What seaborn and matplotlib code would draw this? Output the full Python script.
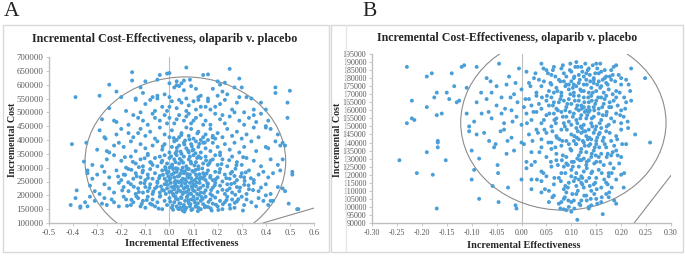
import matplotlib
matplotlib.use("Agg")
import matplotlib.pyplot as plt
import numpy as np
import pandas as pd
import seaborn as sns
from matplotlib.patches import Ellipse, Rectangle
from matplotlib.transforms import Bbox, TransformedBbox

# simulated ICER points, panel A  (effectiveness, cost in $1000)
a_points = [
    # 600k+
    (-0.155,645),(-0.155,615),(-0.25,600),(-0.1,612),(-0.04,635),(-0.01,640),(0.0,642),(0.07,662),
    (0.14,635),(0.16,637),(0.25,657),(0.29,622),(0.03,612),(0.05,605),(0.06,615),(0.085,618),
    (0.2,612),(-0.05,618),(0.0,605),(0.03,598),(0.21,600),(0.23,607),
    # 550-600k
    (-0.39,555),(-0.29,560),(-0.22,575),(-0.2,555),(-0.12,590),(-0.11,570),(-0.07,555),(-0.05,560),
    (-0.02,565),(0.02,590),(0.04,595),(0.06,580),(0.09,595),(0.11,585),(0.13,560),(0.18,585),
    (0.22,575),(0.24,565),(0.27,590),(0.3,590),(0.32,555),(0.44,590),(0.44,570),(0.5,578),
    (0.12,555),(-0.14,550),(0.0,555),(0.07,550),(0.16,550),(0.2,560),(0.34,550),(0.29,555),
    # 500-550k
    (-0.25,515),(-0.14,545),(-0.1,530),(-0.08,545),(-0.05,550),(-0.03,520),(-0.01,505),(0.01,540),
    (0.03,515),(0.05,535),(0.08,525),(0.1,540),(0.12,545),(0.13,520),(0.15,520),(0.17,510),
    (0.19,520),(0.21,530),(0.23,545),(0.26,510),(0.28,535),(0.31,500),(0.35,510),(0.38,535),
    (0.4,510),(0.49,535),(0.11,510),(0.0,520),(-0.06,505),(-0.18,505),(0.07,505),(0.16,540),
    (-0.12,500),(0.04,545),
    # 450-500k
    (-0.28,475),(-0.23,470),(-0.22,465),(-0.15,490),(-0.13,480),(-0.11,470),(-0.09,455),(-0.07,495),
    (-0.06,480),(-0.04,470),(-0.02,490),(0.0,480),(0.02,460),(0.04,490),(0.06,470),(0.08,495),
    (0.09,460),(0.11,480),(0.13,490),(0.15,470),(0.17,455),(0.19,495),(0.21,475),(0.23,460),
    (0.25,485),(0.27,500),(0.29,470),(0.31,455),(0.33,480),(0.36,465),(0.38,495),(0.4,450),
    (0.41,470),(0.49,480),(-0.17,455),(0.14,455),(0.03,475),(-0.01,460),(0.07,485),(0.1,470),
    (0.22,490),(0.35,490),
    # 400-450k
    (-0.29,435),(-0.27,410),(-0.265,405),(-0.2,440),(-0.17,425),(-0.15,410),(-0.12,440),(-0.1,415),
    (-0.08,430),(-0.06,405),(-0.04,445),(-0.02,420),(0.0,410),(0.01,435),(0.03,400),(0.05,425),
    (0.07,445),(0.08,415),(0.1,405),(0.12,430),(0.14,410),(0.15,420),(0.16,400),(0.17,440),
    (0.19,405),(0.2,425),(0.22,410),(0.24,440),(0.26,415),(0.28,430),(0.3,405),(0.32,420),
    (0.35,445),(0.37,410),(0.4,445),(0.42,440),(0.45,420),(0.47,390),(-0.22,420),(0.09,440),
    (0.13,400),(0.18,415),(0.04,410),(-0.13,425),
    # 350-400k
    (-0.405,385),(-0.345,390),(-0.3,365),(-0.26,360),(-0.25,355),(-0.21,390),(-0.19,375),(-0.16,395),
    (-0.14,360),(-0.12,385),(-0.1,370),(-0.09,350),(-0.07,380),(-0.05,395),(-0.03,365),(-0.02,385),
    (0.0,355),(0.01,375),(0.02,395),(0.03,360),(0.04,380),(0.05,350),(0.06,390),(0.07,370),
    (0.08,355),(0.09,385),(0.1,365),(0.11,395),(0.12,375),(0.13,355),(0.14,390),(0.15,370),
    (0.17,360),(0.18,390),(0.2,375),(0.21,355),(0.23,385),(0.25,365),(0.27,390),(0.29,355),
    (0.31,375),(0.34,395),(0.36,360),(0.4,375),(0.41,370),(0.44,395),(0.46,380),(0.48,380),
    (-0.23,380),(0.025,352),(0.065,398),(0.095,362),
    # 300-350k
    (-0.355,322),(-0.32,310),(-0.28,305),(-0.26,330),(-0.23,345),(-0.2,325),(-0.18,300),(-0.16,340),
    (-0.14,315),(-0.12,330),(-0.11,305),(-0.09,345),(-0.08,320),(-0.06,335),(-0.05,305),(-0.03,325),
    (-0.02,345),(-0.01,315),(0.0,335),(0.01,305),(0.02,330),(0.03,345),(0.04,315),(0.05,325),
    (0.06,340),(0.07,305),(0.08,330),(0.09,315),(0.1,345),(0.11,320),(0.12,305),(0.13,335),
    (0.14,315),(0.15,340),(0.16,310),(0.17,325),(0.19,345),(0.2,310),(0.22,330),(0.24,305),
    (0.26,340),(0.28,320),(0.3,310),(0.32,335),(0.35,325),(0.38,305),(0.42,330),(0.45,310),
    (0.47,330),(-0.07,310),(0.025,320),(0.055,300),(0.085,340),(0.115,335),(-0.04,340),(0.18,330),
    (0.21,345),(0.0,300),
    # 250-300k
    (-0.34,290),(-0.34,280),(-0.32,260),(-0.3,275),(-0.27,285),(-0.25,265),(-0.22,290),(-0.2,255),
    (-0.19,275),(-0.17,295),(-0.15,260),(-0.14,280),(-0.12,265),(-0.11,290),(-0.1,255),(-0.09,275),
    (-0.08,295),(-0.07,260),(-0.06,280),(-0.05,250),(-0.04,270),(-0.03,290),(-0.02,260),(-0.01,280),
    (0.0,255),(0.01,275),(0.015,295),(0.02,265),(0.03,285),(0.035,250),(0.04,270),(0.05,290),
    (0.055,260),(0.06,280),(0.07,250),(0.075,270),(0.08,295),(0.09,262),(0.1,285),(0.105,255),
    (0.11,275),(0.12,295),(0.13,265),(0.14,280),(0.15,255),(0.16,290),(0.17,270),(0.18,255),
    (0.19,285),(0.2,265),(0.21,295),(0.22,250),(0.23,275),(0.25,260),(0.26,285),(0.27,270),
    (0.28,255),(0.3,280),(0.31,265),(0.33,290),(0.35,255),(0.37,275),(0.39,285),(0.41,265),
    (0.43,280),(0.46,290),(0.51,285),(0.51,275),(-0.005,268),(0.045,278),(0.065,258),(0.095,288),
    (0.125,258),(0.145,270),(-0.015,292),(0.025,252),(0.085,275),
    # 200-250k
    (-0.385,218),(-0.33,235),(-0.31,215),(-0.29,205),(-0.27,240),(-0.25,225),(-0.23,210),(-0.21,245),
    (-0.19,230),(-0.17,215),(-0.16,240),(-0.14,205),(-0.13,225),(-0.12,245),(-0.11,210),(-0.1,230),
    (-0.09,215),(-0.08,240),(-0.07,205),(-0.06,225),(-0.05,245),(-0.04,210),(-0.035,232),(-0.03,220),
    (-0.02,240),(-0.015,205),(-0.01,225),(0.0,212),(0.005,245),(0.01,230),(0.015,205),(0.02,222),
    (0.025,240),(0.03,210),(0.035,230),(0.04,247),(0.045,215),(0.05,235),(0.055,205),(0.06,225),
    (0.065,243),(0.07,212),(0.075,232),(0.08,220),(0.085,245),(0.09,205),(0.095,228),(0.1,240),
    (0.105,215),(0.11,233),(0.115,205),(0.12,222),(0.125,245),(0.13,210),(0.14,235),(0.15,218),
    (0.16,242),(0.17,205),(0.18,228),(0.19,245),(0.2,212),(0.21,235),(0.22,220),(0.23,205),
    (0.24,240),(0.25,225),(0.26,210),(0.27,245),(0.28,230),(0.29,215),(0.31,238),(0.32,205),
    (0.33,222),(0.35,245),(0.37,215),(0.38,228),(0.4,240),(0.42,205),(0.45,230),(0.47,225),
    (0.48,215),(0.4,200),
    # 140-200k
    (-0.41,165),(-0.39,190),(-0.37,160),(-0.37,155),(-0.35,175),(-0.34,160),(-0.33,195),(-0.31,180),
    (-0.28,170),(-0.27,190),(-0.26,165),(-0.24,185),(-0.23,175),(-0.21,160),(-0.19,195),(-0.18,185),
    (-0.16,165),(-0.15,175),(-0.13,190),(-0.12,160),(-0.11,180),(-0.1,155),(-0.09,195),(-0.08,170),
    (-0.07,185),(-0.06,160),(-0.05,175),(-0.04,195),(-0.03,150),(-0.02,180),(-0.01,165),(0.0,190),
    (0.01,155),(0.02,175),(0.025,195),(0.03,160),(0.035,185),(0.04,150),(0.045,170),(0.05,190),
    (0.055,145),(0.06,165),(0.065,180),(0.07,155),(0.075,198),(0.08,172),(0.085,160),(0.09,185),
    (0.095,150),(0.1,195),(0.105,175),(0.11,162),(0.115,188),(0.12,155),(0.13,180),(0.14,168),
    (0.15,195),(0.16,158),(0.17,185),(0.175,145),(0.18,170),(0.19,192),(0.2,160),(0.21,180),
    (0.22,150),(0.23,175),(0.24,195),(0.25,165),(0.26,185),(0.27,155),(0.28,178),(0.3,195),
    (0.305,145),(0.31,165),(0.32,185),(0.34,175),(0.36,160),(0.37,190),(0.39,180),(0.41,165),
    (0.42,180),(0.43,180),(0.495,170),(0.53,150),(0.535,150),(0.045,155),(-0.045,152),(0.015,148),
    (0.13,150),(0.065,148),
    # extra points in the dense core
    (0.013,163),(0.027,187),(0.041,171),(0.058,158),(0.072,193),(0.087,168),(0.102,182),(0.118,171),
    (0.133,194),(0.147,157),(0.162,176),(0.178,199),(0.193,166),(0.008,214),(0.022,233),(0.037,219),
    (0.052,248),(0.067,229),(0.083,207),(0.098,218),(0.113,246),(0.128,227),(0.143,209),(0.158,231),
    (0.173,219),(0.188,236),(-0.008,238),(-0.023,217),(-0.038,198),(-0.052,231),(-0.067,214),(0.004,262),
    (0.019,281),(0.034,268),(0.049,253),(0.064,287),(0.079,264),(0.094,251),(0.109,292),(0.124,276),
    (0.139,261),(0.154,279),(0.169,264),(-0.012,251),(-0.027,274),(-0.043,262),(0.011,311),(0.026,298),
    (0.043,332),(0.057,318),(0.073,296),(0.088,322),(0.104,308),(0.121,341),(0.136,297),(0.152,326),
    (0.166,316),(-0.018,302),(-0.033,319),(0.031,372),(0.046,358),(0.062,384),(0.077,362),(0.093,377),
    (0.108,352),(0.124,386),(0.018,407),(0.049,418),(0.083,402),(0.116,424),(0.147,391),(0.179,409),
    (-0.028,377),(0.007,341),(0.036,152),(0.062,141),(0.091,147),(0.118,143),(0.149,161),(0.171,153),
    (0.203,147),(0.222,168),(0.237,183),(0.252,152),(0.271,173),(0.286,186),(0.239,218),(0.256,241),
    (0.273,202),(0.293,228),(0.312,252),(0.328,236),(0.347,219),(0.236,262),(0.254,279),(0.274,296),
    (0.296,268),(0.317,283),(0.338,262),(0.216,313),(0.248,327),(0.278,309),(0.306,338),(-0.072,166),
    (-0.094,183),(-0.115,169),(-0.137,196),(-0.158,184),(-0.176,162),(-0.083,227),(-0.104,244),(-0.127,212),
    (-0.148,231),(-0.171,247),(-0.196,218),(-0.089,263),(-0.112,283),(-0.136,269),(-0.158,292),(-0.184,274),
    (-0.213,268),(-0.076,318),(-0.103,334),(-0.127,302),(-0.152,321),(-0.185,338),(0.003,177),(0.017,199),
    (0.048,193),(0.079,182),(0.108,159),(0.138,187),(0.122,202),(0.093,233),(0.059,211),(0.021,247),
    (0.114,264),(0.074,277),(0.034,296),(-0.004,285),(0.157,244),(0.192,258),(0.207,283),
]

# panel B points (effectiveness, cost in $1000)
b_points = [
    # 180-190k
    (-0.23,187),(-0.19,181),(-0.18,183),(-0.14,183),(-0.12,187),(-0.115,188),(-0.09,187),(-0.07,180),
    (-0.045,189),(-0.025,181),(-0.005,186),(0.01,184),(0.04,189),(0.05,185),(0.06,182),(0.065,187),
    (0.08,186),(0.09,181),(0.1,184),(0.11,190),(0.115,182),(0.12,187),(0.13,183),(0.135,186),
    (0.145,180),(0.15,189),(0.16,184),(0.17,181),(0.18,185),(0.19,188),(0.2,180),(0.22,186),
    (0.248,180),(0.025,180),(0.105,180),(0.155,183),(0.085,183),(0.125,181),
    # 170-180k
    (-0.17,171),(-0.15,171),(-0.135,175),(-0.11,174),(-0.06,171),(-0.05,175),(-0.015,170),(-0.03,176),
    (0.0,173),(0.015,177),(0.03,171),(0.04,175),(0.045,178),(0.055,172),(0.06,176),(0.07,174),
    (0.075,179),(0.08,171),(0.09,176),(0.095,173),(0.1,178),(0.105,171),(0.11,175),(0.115,177),
    (0.12,172),(0.125,176),(0.13,179),(0.135,171),(0.14,174),(0.145,177),(0.15,172),(0.155,178),
    (0.16,175),(0.165,171),(0.17,177),(0.175,173),(0.18,179),(0.19,172),(0.2,176),(0.21,179),
    (0.218,172),(0.035,179),(0.065,171),(0.085,178),(0.105,176),(0.125,172),(0.145,179),
    # 160-170k
    (-0.22,166),(-0.19,162),(-0.175,168),(-0.145,167),(-0.13,165),(-0.125,166),(-0.05,163),(-0.008,165),
    (-0.02,160),(-0.04,168),(0.005,162),(0.015,167),(0.02,163),(0.03,169),(0.04,161),(0.05,166),
    (0.055,163),(0.06,168),(0.07,161),(0.075,165),(0.08,169),(0.09,162),(0.095,167),(0.1,164),
    (0.105,169),(0.11,161),(0.115,166),(0.12,163),(0.125,168),(0.13,160),(0.135,165),(0.14,169),
    (0.145,162),(0.15,166),(0.155,161),(0.16,168),(0.165,164),(0.17,169),(0.18,162),(0.185,166),
    (0.19,168),(0.2,160),(0.21,165),(0.22,166),(0.035,164),(0.065,165),(0.085,166),(0.115,169),
    (0.135,162),(-0.07,167),(-0.09,165),
    # 150-160k
    (-0.23,152),(-0.22,155),(-0.215,154),(-0.17,157),(-0.16,158),(-0.11,158),(-0.105,150),(-0.08,158),
    (-0.04,158),(-0.06,155),(-0.035,152),(-0.01,156),(0.0,151),(0.01,158),(0.02,154),(0.03,159),
    (0.04,152),(0.05,157),(0.06,150),(0.07,155),(0.08,159),(0.085,152),(0.09,156),(0.1,151),
    (0.105,158),(0.11,154),(0.12,157),(0.125,151),(0.13,155),(0.135,159),(0.14,152),(0.145,156),
    (0.15,150),(0.155,158),(0.16,154),(0.17,157),(0.175,151),(0.18,155),(0.19,158),(0.2,152),
    (0.205,156),(0.213,153),(0.115,160),(0.095,153),(0.065,158),(0.045,154),
    # 140-150k
    (-0.168,141),(-0.105,147),(-0.09,145),(-0.075,146),(-0.065,141),(-0.035,148),(-0.02,143),(0.0,140),
    (0.015,145),(0.03,148),(0.04,142),(0.05,146),(0.06,140),(0.07,144),(0.08,148),(0.09,141),
    (0.1,145),(0.11,149),(0.115,142),(0.12,146),(0.125,140),(0.13,144),(0.135,148),(0.14,142),
    (0.145,146),(0.15,141),(0.155,145),(0.16,149),(0.165,143),(0.17,147),(0.18,141),(0.19,144),
    (0.2,148),(0.21,139),(0.228,145),(0.258,140),(0.105,141),(0.125,147),
    # 130-140k
    (-0.245,129),(-0.19,134),(-0.168,140),(-0.168,137),(-0.1,135),(-0.085,130),(-0.055,137),(-0.03,133),
    (-0.015,135),(0.005,139),(0.02,134),(0.04,137),(0.05,131),(0.06,136),(0.07,133),(0.08,138),
    (0.09,131),(0.1,135),(0.11,139),(0.115,132),(0.12,136),(0.125,130),(0.13,134),(0.135,138),
    (0.14,131),(0.145,135),(0.15,139),(0.16,133),(0.17,137),(0.18,132),(0.19,135),(0.2,131),
    (0.095,139),(0.155,131),
    # 120-130k
    (-0.21,121),(-0.178,120),(-0.152,129),(-0.095,123),(-0.048,126),(-0.047,121),(0.01,128),(0.01,124),
    (0.02,126),(0.04,122),(0.06,125),(0.07,129),(0.08,121),(0.09,127),(0.1,123),(0.105,128),
    (0.11,121),(0.115,125),(0.12,129),(0.125,122),(0.13,126),(0.14,121),(0.15,128),(0.155,123),
    (0.165,126),(0.175,121),(0.185,124),(0.2,120),(0.085,125),(0.135,129),
    # 110-120k
    (-0.1,117),(-0.058,113),(-0.027,112),(0.0,117),(0.02,111),(0.02,117),(0.04,116),(0.05,119),
    (0.055,110),(0.065,114),(0.075,118),(0.085,111),(0.095,115),(0.1,119),(0.11,113),(0.115,117),
    (0.12,119),(0.125,112),(0.13,116),(0.14,110),(0.145,114),(0.15,118),(0.16,112),(0.17,115),
    (0.175,119),(0.19,117),(0.205,112),(0.12,115),(0.105,116),
    # 90-110k
    (-0.085,105),(-0.046,103),(-0.012,101),(0.04,109),(0.055,103),(0.065,107),(0.075,102),(0.085,105),
    (0.09,109),(0.1,103),(0.105,104),(0.11,108),(0.12,104),(0.13,107),(0.14,101),(0.15,105),
    (0.16,103),(0.17,108),(0.175,106),(0.19,102),(0.08,103),(0.095,100),(0.135,100),
    (-0.17,99),(-0.01,99),(0.085,98.5),(0.09,98),(0.1,97),(0.112,92),(0.135,99),(0.163,95.5),(0.078,99),
    # extra points in the dense core
    (0.053,183),(0.068,181),(0.083,188),(0.097,185),(0.108,187),(0.122,184),(0.137,182),(0.152,186),
    (0.167,185),(0.183,182),(0.058,177),(0.072,172),(0.088,175),(0.103,174),(0.117,179),(0.131,176),
    (0.143,171),(0.158,174),(0.173,176),(0.188,178),(0.051,169),(0.063,163),(0.078,167),(0.092,164),
    (0.107,166),(0.121,161),(0.134,168),(0.148,164),(0.162,162),(0.177,165),(0.193,163),(0.206,168),
    (0.056,158),(0.069,152),(0.083,156),(0.097,159),(0.112,152),(0.127,159),(0.141,155),(0.157,152),
    (0.171,159),(0.186,153),(0.198,157),(0.062,147),(0.076,142),(0.091,148),(0.106,144),(0.121,149),
    (0.133,142),(0.148,148),(0.163,141),(0.177,146),(0.192,142),(0.068,137),(0.083,132),(0.098,136),
    (0.112,130),(0.127,138),(0.141,133),(0.156,137),(0.171,131),(0.186,138),(0.073,126),(0.088,121),
    (0.103,125),(0.117,129),(0.131,124),(0.146,127),(0.161,121),(0.178,127),(0.079,116),(0.093,112),
    (0.108,118),(0.122,114),(0.136,118),(0.151,111),(0.166,117),(0.181,112),(0.087,106),(0.102,108),
    (0.116,102),(0.131,104),(0.146,108),(0.161,106),(0.176,109),(0.186,104),(0.028,183),(0.018,175),
    (0.008,167),(0.024,159),(0.011,152),(0.033,146),(0.022,141),(0.036,134),(0.027,128),(0.044,121),
    (0.031,117),(0.047,111),(-0.012,177),(-0.022,168),(-0.033,161),(-0.018,153),(-0.042,147),(-0.052,139),
    (-0.028,141),(-0.066,159),(-0.081,171),(-0.095,153),(-0.062,178),(0.113,187),(0.128,189),(0.143,188),
    (0.158,189),(0.098,189),(0.138,178),(0.152,176),(0.163,179),(0.118,173),(0.098,170),(0.141,166),
    (0.154,168),(0.126,165),(0.112,163),(0.167,167),(0.183,170),(0.197,171),(0.132,157),(0.146,160),
    (0.118,155),(0.103,156),(0.163,157),(0.176,162),(0.142,150),(0.128,147),(0.157,146),(0.113,147),
    (0.171,150),(0.138,139),(0.152,143),(0.123,141),(0.167,139),(0.183,134),(0.136,143),(0.147,137),
    (0.131,128),(0.142,122),(0.122,118),(0.137,113),(0.126,107),(0.113,110),(0.148,115),(0.158,128),
    (0.173,133),(0.196,127),(0.202,139),(0.214,149),(0.208,161),(0.215,176),(0.195,182),(0.185,187),
    (0.063,185),(0.078,178),(0.073,160),(0.087,150),(0.082,141),(0.093,126),(0.088,113),(0.094,104),
    (0.106,99),(0.118,101),(0.139,105),(0.152,102),(0.044,186),(0.041,168),(0.046,148),(0.054,140),
    (0.059,128),(0.066,118),(0.062,106),(0.173,114),(0.181,121),(0.193,132),(0.206,121),(0.149,132),
    (0.119,134),(0.109,139),(0.101,128),(0.081,129),(0.071,143),(0.066,154),(0.088,160),(0.095,176),
    (0.106,181),(0.133,185),(0.148,183),(0.177,181),(0.167,180),(0.125,162),(0.137,160),(0.119,150),
    (0.111,143),
]

# confidence ellipses: (centre x, centre y, width, height)
a_ellipse = (0.066, 323000, 0.833, 610000)
b_ellipse = (0.084, 152400, 0.412, 108800)
# willingness-to-pay line segments
a_wtp_x = [0.388, 0.60]
a_wtp_y = [100000, 154000]
b_wtp_x = [0.226, 0.30]
b_wtp_y = [90000, 119600]

title = "Incremental Cost-Effectiveness, olaparib v. placebo"
dot = "#4a9fd8"
grey = "#bfbfbf"
serif = "Liberation Serif"

sns.set_style("white")
plt.rcParams["font.family"] = serif
plt.rcParams["axes.unicode_minus"] = False

W, H = 685, 256
fig = plt.figure(figsize=(W / 100, H / 100), dpi=100)


def fx(px):
    return px / W


def fy(py):
    return 1 - py / H


# chart frames
fig.patches.append(Rectangle((fx(3), fy(252)), fx(326), (252 - 25) / H, transform=fig.transFigure,
                             fill=False, edgecolor="#d9d9d9", linewidth=1.0))
fig.patches.append(Rectangle((fx(331), fy(252)), fx(352), (252 - 25) / H, transform=fig.transFigure,
                             fill=False, edgecolor="#d9d9d9", linewidth=1.0))
fig.lines.append(plt.Line2D([fx(346), fx(346)], [fy(252), fy(25)], transform=fig.transFigure,
                            color="#e6e6e6", linewidth=1.0))

axA = fig.add_axes([fx(49), fy(223), fx(265), 166 / H])
axB = fig.add_axes([fx(372), fy(223), fx(299), 169 / H])


def style(ax, xlim, ylim, xt, yt, xfmt, fs):
    ax.set_xlim(*xlim)
    ax.set_ylim(*ylim)
    ax.set_xticks(xt)
    ax.set_xticklabels([xfmt.format(v + 0.0) for v in xt])
    ax.set_yticks(yt)
    ax.set_yticklabels([f"{int(round(v))}" for v in yt])
    for s in ["top", "right"]:
        ax.spines[s].set_visible(False)
    for s in ["left", "bottom"]:
        ax.spines[s].set_color(grey)
        ax.spines[s].set_linewidth(1.0)
    ax.tick_params(axis="both", labelsize=fs, colors="#595959", length=2.5, width=0.6,
                   color=grey, pad=1.5, direction="out")
    ax.tick_params(axis="both", which="both", bottom=True, left=True)
    ax.axvline(0, color=grey, linewidth=0.8, zorder=1)
    ax.set_xlabel("")
    ax.set_ylabel("")


def draw(ax, pts, ell, wx, wy):
    df = pd.DataFrame(pts, columns=["eff", "cost_k"])
    df["cost"] = df["cost_k"] * 1000
    sns.scatterplot(data=df, x="eff", y="cost", ax=ax, s=8, color=dot, edgecolor="none",
                    linewidth=0, zorder=3)
    ax.add_patch(Ellipse((ell[0], ell[1]), ell[2], ell[3], fill=False, edgecolor="#8c8c8c",
                         linewidth=0.8, zorder=2))
    ax.plot(wx, wy, color="#8c8c8c", linewidth=0.8, zorder=2)


draw(axA, a_points, a_ellipse, a_wtp_x, a_wtp_y)
style(axA, (-0.5, 0.6), (100000, 700000), np.round(np.arange(-0.5, 0.61, 0.1), 2),
      np.arange(100000, 700001, 50000), "{:.1f}", 6.3)

draw(axB, b_points, b_ellipse, b_wtp_x, b_wtp_y)
style(axB, (-0.30, 0.30), (90000, 195000), np.round(np.arange(-0.30, 0.301, 0.05), 2),
      np.arange(90000, 195001, 5000), "{:.2f}", 5.8)

bold = dict(fontweight="bold", color="#262626", family=serif)
fig.text(fx(165), fy(39), title, ha="center", va="center", fontsize=8.7, **bold)
fig.text(fx(507), fy(38), title, ha="center", va="center", fontsize=8.6, **bold)
fig.text(fx(182), fy(244), "Incremental Effectiveness", ha="center", va="center", fontsize=7.4, **bold)
fig.text(fx(524), fy(245), "Incremental Effectiveness", ha="center", va="center", fontsize=7.4, **bold)
fig.text(fx(13), fy(140), "Incremental Cost", ha="center", va="center", rotation=90,
         fontsize=7.2, **bold)
# panel B's y label is mostly hidden behind its frame in the original
tb = fig.text(fx(338), fy(140), "Incremental Cost", ha="center", va="center", rotation=90,
              fontsize=7.2, **bold)
tb.set_clip_box(TransformedBbox(Bbox.from_extents(fx(332), 0, fx(340), 1), fig.transFigure))

fig.text(fx(4), fy(11), "A", ha="left", va="center", fontsize=15.5, family=serif, color="#222222")
fig.text(fx(362), fy(11), "B", ha="left", va="center", fontsize=15.5, family=serif, color="#222222")

fig.savefig("out.png", dpi=100)
